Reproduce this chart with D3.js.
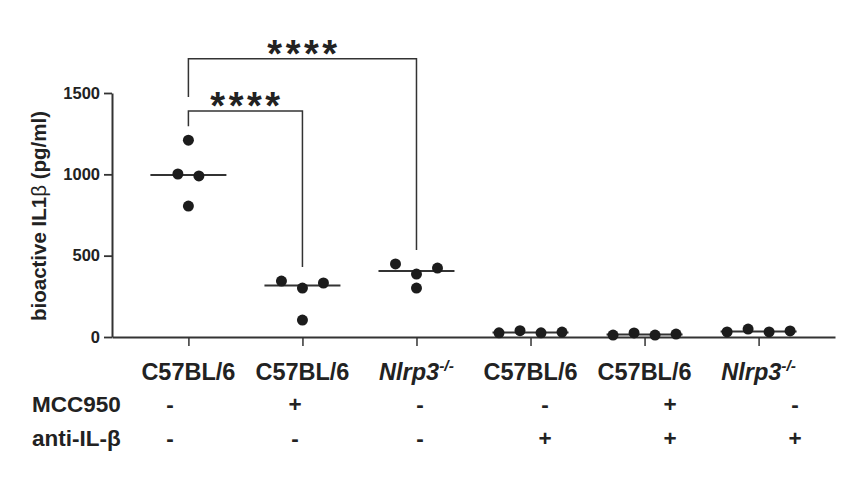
<!DOCTYPE html>
<html>
<head>
<meta charset="utf-8">
<script src="https://cdn.jsdelivr.net/npm/d3@7"></script>
<style>
  body { margin: 0; background: #fff; }
  svg { display: block; }
  text { font-family: "Liberation Sans", Arial, sans-serif; fill: #222; }
</style>
</head>
<body>
<svg id="chart" width="857" height="486"></svg>
<script>
// ---------------- data ----------------
const groups = ["g1", "g2", "g3", "g4", "g5", "g6"];
const genotypeLabels = ["C57BL/6", "C57BL/6", "Nlrp3", "C57BL/6", "C57BL/6", "Nlrp3"];
const genotypeSuperscripts = ["", "", "-/-", "", "", "-/-"];
const genotypeItalic = [false, false, true, false, false, true];
const mcc950Signs = ["-", "+", "-", "-", "+", "-"];
const antiIL1bSigns = ["-", "-", "-", "+", "+", "+"];
const conditionRowLabels = ["MCC950", "anti-IL-β"];
const il1bValues = [
  [1210, 1002, 990, 805],
  [344, 301, 332, 104],
  [449, 387, 424, 301],
  [26, 39, 26, 30],
  [12, 25, 12, 18],
  [31, 49, 31, 37]
];
const yTicks = [0, 500, 1000, 1500];
const yLabel = "bioactive IL1";
const comparisons = [
  { from: 0, to: 1, label: "****", level: 1390 },
  { from: 0, to: 2, label: "****", level: 1710 }
];

// ---------------- layout ----------------
const svg = d3.select("#chart");
const x = d3.scalePoint().domain(groups).range([112, 835]).padding(0.67);
const y = d3.scaleLinear().domain([0, 1500]).range([337, 93]);
const colX = d3.scalePoint().domain(groups).range([170, 795]); // condition table columns
const dotR = 5.5, swarmStep = 21, medianHalf = 38, bracketGap = 14;
const ink = "#333";

// axes
const yAxis = svg.append("g").attr("transform", "translate(112,0)")
  .call(d3.axisLeft(y).tickValues(yTicks).tickFormat(d3.format("d"))
    .tickSize(8).tickSizeOuter(0).tickPadding(4));
yAxis.select(".domain").attr("stroke", ink).attr("stroke-width", 2);
yAxis.selectAll(".tick line").attr("stroke", ink).attr("stroke-width", 1.8);
yAxis.selectAll(".tick text").attr("font-family", "Liberation Sans, Arial, sans-serif")
  .attr("font-size", 16.5).attr("font-weight", "bold").attr("fill", "#222");

const xAxis = svg.append("g").attr("transform", "translate(0,337)")
  .call(d3.axisBottom(x).tickSize(9).tickSizeOuter(0).tickFormat(""));
xAxis.select(".domain").attr("stroke", ink).attr("stroke-width", 2);
xAxis.selectAll(".tick line").attr("stroke", ink).attr("stroke-width", 1.5);

// y label
const yl = svg.append("text")
  .attr("transform", "translate(46,216) rotate(-90)")
  .attr("text-anchor", "middle")
  .attr("font-size", 20.5).attr("font-weight", "bold");
yl.append("tspan").text(yLabel);
yl.append("tspan").attr("font-weight", "normal").text("β");
yl.append("tspan").text(" (pg/ml)");

// swarm offsets
function swarm(vals) {
  const idx = vals.map((v, i) => i).sort((a, b) => vals[a] - vals[b]);
  const clusters = [];
  let cur = [idx[0]];
  for (let k = 1; k < idx.length; k++) {
    if (Math.abs(y(vals[idx[k]]) - y(vals[idx[k - 1]])) < 2 * dotR) cur.push(idx[k]);
    else { clusters.push(cur); cur = [idx[k]]; }
  }
  clusters.push(cur);
  const off = new Array(vals.length).fill(0);
  clusters.forEach(c => {
    c.sort((a, b) => a - b);
    c.forEach((i, k) => off[i] = (k - (c.length - 1) / 2) * swarmStep);
  });
  return off;
}

groups.forEach((g, gi) => {
  const vals = il1bValues[gi];
  const cx = x(g);
  const med = d3.median(vals);
  svg.append("line")
    .attr("x1", cx - medianHalf).attr("x2", cx + medianHalf)
    .attr("y1", y(med)).attr("y2", y(med))
    .attr("stroke", ink).attr("stroke-width", 2);
  const off = swarm(vals);
  svg.append("g").selectAll("circle").data(vals).join("circle")
    .attr("cx", (d, i) => cx + off[i]).attr("cy", d => y(d))
    .attr("r", dotR).attr("fill", "#1c1c1c");
});

// significance brackets
comparisons.forEach(c => {
  const x1 = x(groups[c.from]), x2 = x(groups[c.to]);
  const yTop = y(c.level);
  const lowerLevels = comparisons.filter(o => o.from === c.from && o.level < c.level).map(o => y(o.level));
  const yL = (lowerLevels.length ? d3.min(lowerLevels) : y(d3.max(il1bValues[c.from]))) - bracketGap;
  const yR = y(d3.max(il1bValues[c.to])) - bracketGap;
  svg.append("path")
    .attr("d", `M${x1},${yL}V${yTop}H${x2}V${yR}`)
    .attr("fill", "none").attr("stroke", ink).attr("stroke-width", 1.5);
  svg.append("text")
    .attr("x", (x1 + x2) / 2 + 1.5).attr("y", yTop + 8)
    .attr("text-anchor", "middle")
    .attr("font-size", 38).attr("font-weight", "bold").attr("letter-spacing", 3.5)
    .text(c.label);
});

// genotype labels
groups.forEach((g, gi) => {
  const t = svg.append("text")
    .attr("x", x(g)).attr("y", 380)
    .attr("text-anchor", "middle")
    .attr("font-size", 23.5).attr("font-weight", "bold")
    .attr("font-style", genotypeItalic[gi] ? "italic" : "normal");
  t.append("tspan").text(genotypeLabels[gi]);
  if (genotypeSuperscripts[gi]) {
    t.append("tspan").attr("font-size", 15.5).attr("dy", -9).text(genotypeSuperscripts[gi]);
  }
});

// condition rows
const rowY = [412, 446];
[mcc950Signs, antiIL1bSigns].forEach((signs, ri) => {
  svg.append("text").attr("x", 32).attr("y", rowY[ri])
    .attr("font-size", 22.5).attr("font-weight", "bold").text(conditionRowLabels[ri]);
  svg.append("g").selectAll("text").data(signs).join("text")
    .attr("x", (d, i) => colX(groups[i])).attr("y", rowY[ri])
    .attr("text-anchor", "middle")
    .attr("font-size", 22.5).attr("font-weight", "bold").text(d => d);
});
</script>
</body>
</html>
